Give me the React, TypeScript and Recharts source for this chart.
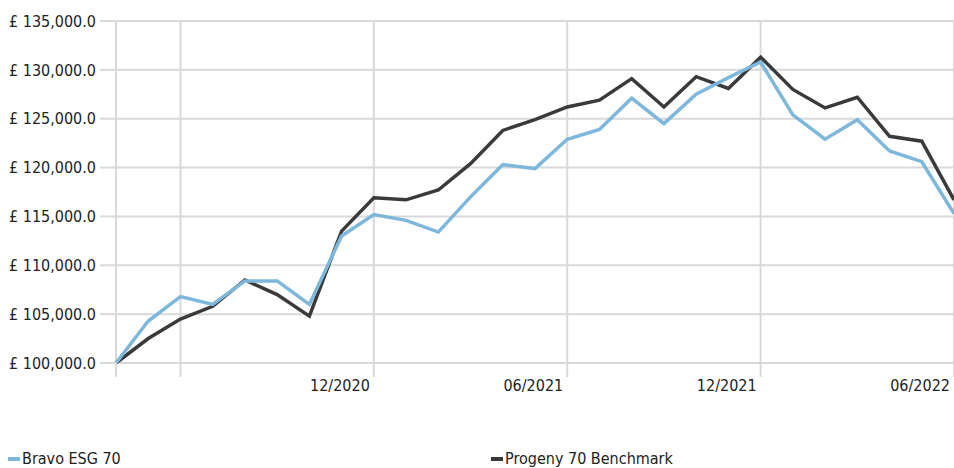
import { LineChart, Line, XAxis, YAxis, CartesianGrid } from "recharts";

const MONTHS = [
  "04/2020", "05/2020", "06/2020", "07/2020", "08/2020", "09/2020", "10/2020", "11/2020",
  "12/2020", "01/2021", "02/2021", "03/2021", "04/2021", "05/2021", "06/2021", "07/2021",
  "08/2021", "09/2021", "10/2021", "11/2021", "12/2021", "01/2022", "02/2022", "03/2022",
  "04/2022", "05/2022", "06/2022",
];

const BRAVO = [
  100000, 104300, 106800, 106000, 108400, 108400, 106000, 113000,
  115200, 114600, 113400, 117000, 120300, 119900, 122900, 123900,
  127100, 124500, 127500, 129200, 130800, 125400, 122900, 124900,
  121700, 120600, 115300,
];

const PROGENY = [
  100000, 102500, 104500, 105800, 108500, 107000, 104800, 113500,
  116900, 116700, 117700, 120400, 123800, 124900, 126200, 126900,
  129100, 126200, 129300, 128100, 131300, 128000, 126100, 127200,
  123200, 122700, 116700,
];

const X_TICKS = ["04/2020", "06/2020", "12/2020", "06/2021", "12/2021", "06/2022"];
const X_LABELS = ["12/2020", "06/2021", "12/2021", "06/2022"];
const Y_TICKS = [100000, 105000, 110000, 115000, 120000, 125000, 130000, 135000];

const FONT = "'Liberation Sans Narrow', 'DejaVu Sans Condensed', 'Roboto', sans-serif";
const GRID = "#d9d9d9";
const BLUE = "#7db7dc";
const DARK = "#3a3a3a";

const data = MONTHS.map((m, i) => ({ i, month: m, bravo: BRAVO[i], progeny: PROGENY[i] }));
const tickIdx = X_TICKS.map((t) => MONTHS.indexOf(t));

const fmtMoney = (v: number) =>
  "£ " + v.toLocaleString("en-GB", { minimumFractionDigits: 1, maximumFractionDigits: 1 });

function XTick(props: any) {
  const { x, y, payload } = props;
  const label = MONTHS[payload.value];
  if (!X_LABELS.includes(label)) return null;
  return (
    <text x={x - 4} y={y + 12} textAnchor="end" fill="#222" fontSize={16} fontFamily={FONT}>
      {label}
    </text>
  );
}

export default function App() {
  return (
    <div style={{ position: "absolute", left: 0, top: 0, width: 954, height: 468, background: "#fff" }}>
      <LineChart width={954} height={468} data={data} margin={{ top: 21, right: 0, left: 0, bottom: 0 }}>
        <CartesianGrid stroke={GRID} strokeWidth={2} />
        <XAxis
          dataKey="i"
          type="number"
          domain={[0, MONTHS.length - 1]}
          ticks={tickIdx}
          interval={0}
          height={105}
          axisLine={false}
          tickLine={{ stroke: GRID, strokeWidth: 2 }}
          tickSize={14}
          tick={<XTick />}
        />
        <YAxis
          domain={[100000, 135000]}
          ticks={Y_TICKS}
          width={116}
          axisLine={false}
          tickLine={{ stroke: GRID, strokeWidth: 2 }}
          tickSize={16}
          tickMargin={4}
          tickFormatter={fmtMoney}
          tick={{ fill: "#222", fontSize: 16, fontFamily: FONT }}
        />
        <Line dataKey="progeny" stroke={DARK} strokeWidth={3.5} dot={false} isAnimationActive={false} />
        <Line dataKey="bravo" stroke={BLUE} strokeWidth={3.5} dot={false} isAnimationActive={false} />
      </LineChart>
      <div
        style={{
          position: "absolute",
          top: 449,
          left: 8,
          display: "flex",
          fontFamily: FONT,
          fontSize: 16,
          color: "#222",
        }}
      >
        {[
          { name: "Bravo ESG 70", color: BLUE },
          { name: "Progeny 70 Benchmark", color: DARK },
        ].map((s) => (
          <div key={s.name} style={{ width: 483, display: "flex", alignItems: "center" }}>
            <span style={{ width: 12, height: 4, background: s.color, marginRight: 2, display: "inline-block" }} />
            {s.name}
          </div>
        ))}
      </div>
    </div>
  );
}
